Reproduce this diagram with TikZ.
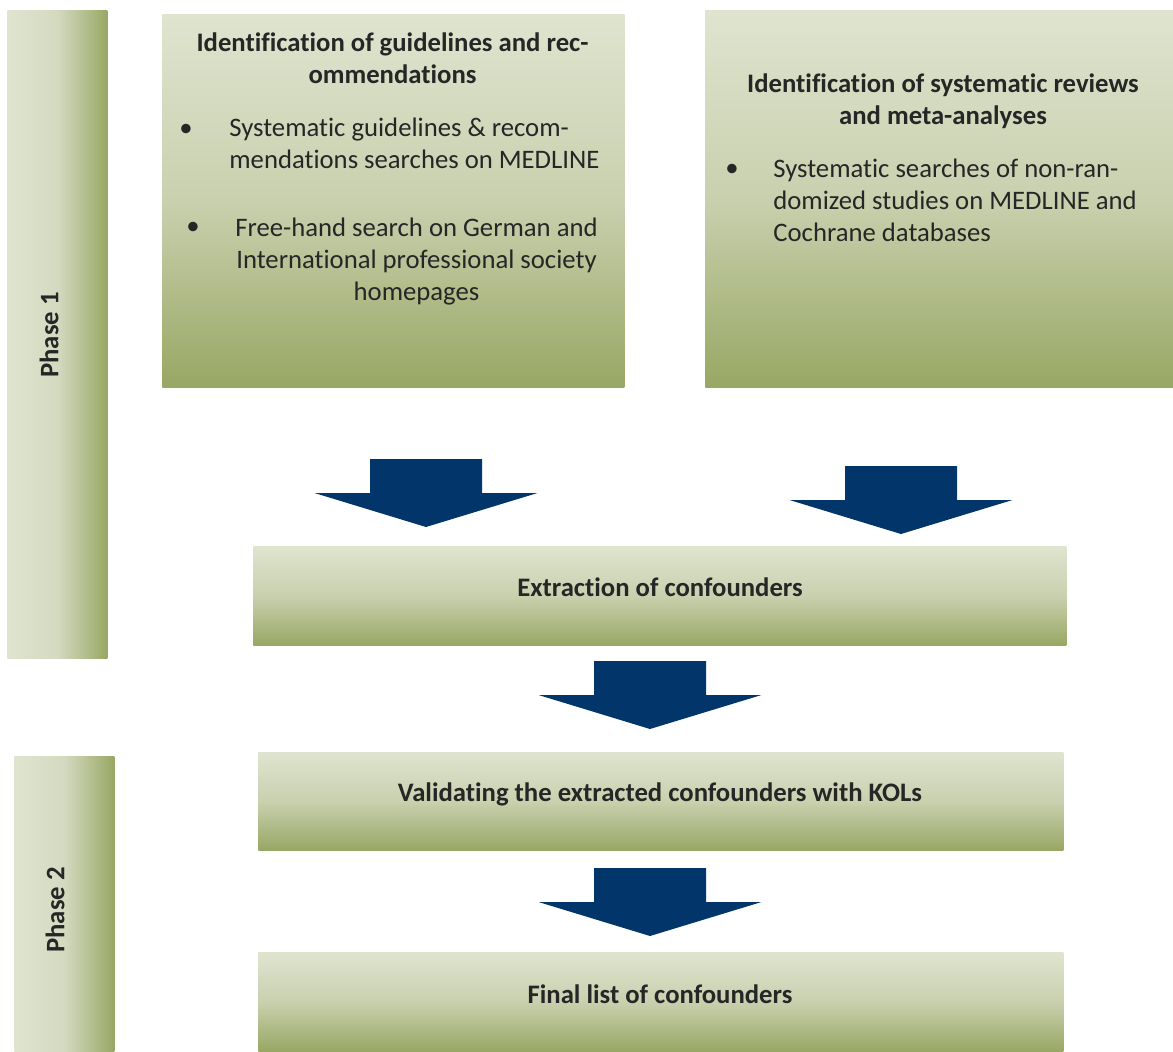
\documentclass[tikz,border=0pt]{standalone}
\usepackage{fontspec}
\setmainfont[Ligatures=NoCommon]{Carlito}
\usetikzlibrary{positioning}

\definecolor{olivelight}{HTML}{DFE4CF}
\definecolor{olivemid}{HTML}{C9D0AE}
\definecolor{olivebar}{HTML}{D4DAC0}
\definecolor{olivedark}{HTML}{98A764}
\definecolor{arrowblue}{HTML}{02366A}
\definecolor{textgrey}{HTML}{262626}

% top light, bottom olive
\pgfdeclareverticalshading{boxshade}{100bp}{color(0bp)=(olivedark); color(25bp)=(olivedark); color(50bp)=(olivemid); color(75bp)=(olivelight); color(100bp)=(olivelight)}
% left light, right olive
\pgfdeclarehorizontalshading{barshade}{100bp}{color(0bp)=(olivelight); color(25bp)=(olivelight); color(50bp)=(olivebar); color(75bp)=(olivedark); color(100bp)=(olivedark)}

\begin{document}
\begin{tikzpicture}[x=0.5pt,y=-0.5pt,
  every node/.style={font=\fontsize{13.35}{16}\selectfont,text=textgrey,inner sep=0pt},
  box node/.style={shading=boxshade,anchor=north west},
  bar node/.style={shading=barshade,anchor=north west,minimum width=50pt},
  title node/.style={font=\fontsize{13.35}{16}\selectfont\bfseries,align=center,anchor=base},
  item node/.style={anchor=base west,align=left},
  phase node/.style={font=\fontsize{13.35}{16}\selectfont\bfseries,rotate=90}]%
  \useasboundingbox (0,0) rectangle (1173,1051);
  \pgfmathsetmacro{\shaft}{56}
  \pgfmathsetmacro{\head}{111.5}
  \pgfmathsetmacro{\len}{34}

  % phase bars
  \node[bar node,minimum height=324pt] (p1) at (7,10) {};
  \node[bar node,minimum height=147.5pt] (p2) at (14,756) {};
  \node[phase node] (l1) at (49,335) {Phase 1};
  \node[phase node] (l2) at (55,910) {Phase 2};

  % boxes
  \node[box node,minimum width=231pt,minimum height=186.5pt] (b1) at (162,14) {};
  \node[box node,minimum width=234pt,minimum height=188.5pt] (b2) at (705,10) {};
  \node[box node,minimum width=406.5pt,minimum height=49.5pt] (b3) at (253,546) {};
  \node[box node,minimum width=402.5pt,minimum height=49pt] (b4) at (258,752) {};
  \node[box node,minimum width=402.5pt,minimum height=49.5pt] (b5) at (258,952) {};

  % texts (base = last line)
  \node[title node] (t1) at (392.5,83) {Identification of guidelines and rec-\\ommendations};
  \node (d1) at (186,130) {•};
  \node[item node] (s1) at (229,168) {Systematic guidelines \& recom-\\mendations searches on MEDLINE};
  \node (d2) at (193,228) {•};
  \node[anchor=base,align=center] (s2) at (416.5,300) {Free-hand search on German and\\International professional society\\homepages};

  \node[title node] (t2) at (943,124) {Identification of systematic reviews\\and meta-analyses};
  \node (d3) at (732,170) {•};
  \node[item node] (s3) at (773,241) {Systematic searches of non-ran-\\domized studies on MEDLINE and\\Cochrane databases};

  \node[title node] (t3) at (660,596) {Extraction of confounders};
  \node[title node] (t4) at (660,801) {Validating the extracted confounders with KOLs};
  \node[title node] (t5) at (660,1003) {Final list of confounders};

  % block arrows
  \foreach \cx/\cy in {426/459,901/466,650/661,650/868}
  \fill[arrowblue] (\cx-\shaft,\cy) -- (\cx+\shaft,\cy) -- (\cx+\shaft,\cy+\len)
    -- (\cx+\head,\cy+\len) -- (\cx,\cy+2*\len) -- (\cx-\head,\cy+\len)
    -- (\cx-\shaft,\cy+\len) -- cycle;
\end{tikzpicture}
\end{document}
